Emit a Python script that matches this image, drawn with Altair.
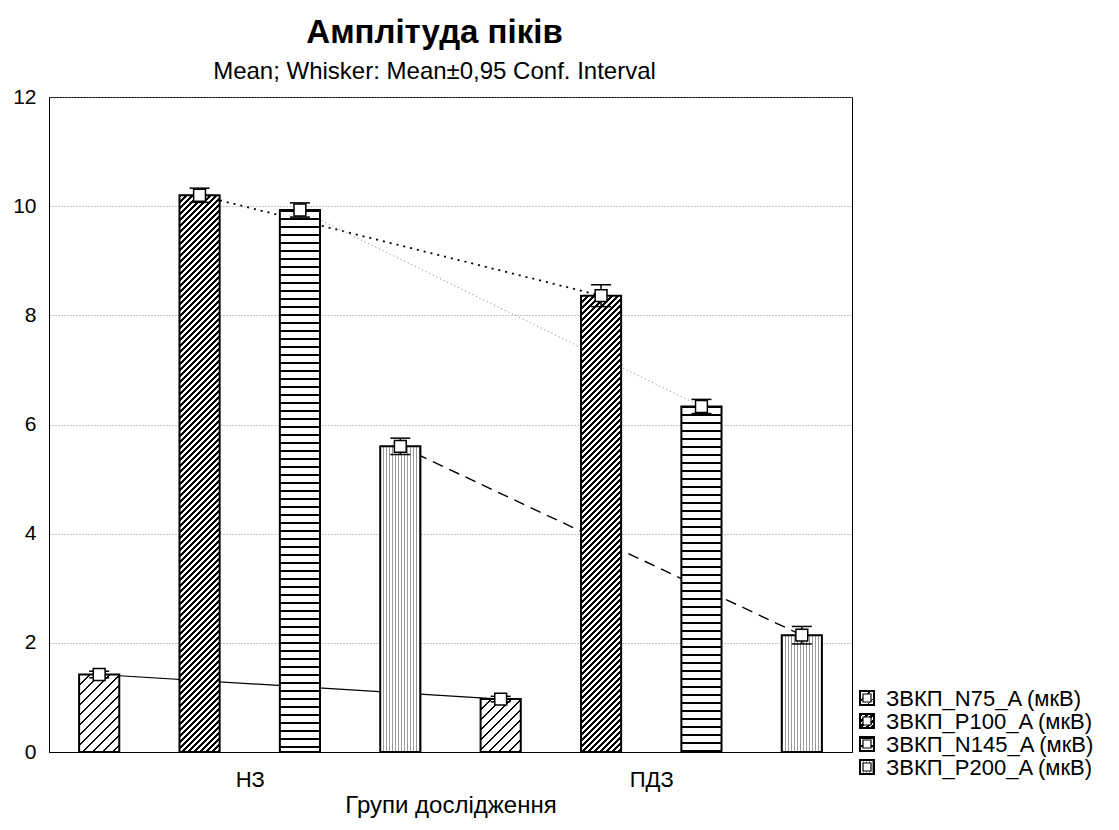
import altair as alt
import pandas as pd

# ---------------- data ----------------
groups = ["НЗ", "ПДЗ"]
series = ["ЗВКП_N75_A (мкВ)", "ЗВКП_P100_A (мкВ)", "ЗВКП_N145_A (мкВ)", "ЗВКП_P200_A (мкВ)"]
mean_n75 = [1.42, 0.97]
mean_p100 = [10.20, 8.36]
mean_n145 = [9.93, 6.33]
mean_p200 = [5.60, 2.14]
ci_n75 = [0.06, 0.05]
ci_p100 = [0.13, 0.20]
ci_n145 = [0.13, 0.13]
ci_p200 = [0.15, 0.16]
y_ticks = [0, 2, 4, 6, 8, 10, 12]

means = [mean_n75, mean_p100, mean_n145, mean_p200]
cis = [ci_n75, ci_p100, ci_n145, ci_p200]

# ---------------- layout ----------------
W, H = 803, 655
YMAX = 12
NSLOT = 8
BAR_FRAC = 0.4
FONT = "Liberation Sans"

rows = []
for gi, g in enumerate(groups):
    for si, s in enumerate(series):
        slot = gi * len(series) + si
        m = means[si][gi]
        c = cis[si][gi]
        rows.append(dict(group=g, series=s, sidx=si, slot=slot,
                         xc=slot + 0.5, x0=slot + 0.5 - BAR_FRAC / 2,
                         x1=slot + 0.5 + BAR_FRAC / 2, base=0.0,
                         mean=m, lo=m - c, hi=m + c))
df = pd.DataFrame(rows)

bar_w = BAR_FRAC * W / NSLOT
px_per = H / YMAX


def stripes(total, period, line, color):
    stops = []
    k = 0
    while k * period < total:
        a = min(k * period / total, 1.0)
        b = min((k * period + line) / total, 1.0)
        stops += [{"offset": round(a, 5), "color": "white"},
                  {"offset": round(a, 5), "color": color},
                  {"offset": round(b, 5), "color": color},
                  {"offset": round(b, 5), "color": "white"}]
        k += 1
    stops.append({"offset": 1, "color": "white"})
    return stops


def diag_fill(w, h, period, line):
    S = w + h
    c = S / (w * w + h * h)
    return {"gradient": "linear", "x1": 0, "y1": 0, "x2": w * c, "y2": h * c,
            "stops": stripes(S, period, line, "black")}


def horiz_fill(h, period, line):
    return {"gradient": "linear", "x1": 0, "y1": 0, "x2": 0, "y2": 1,
            "stops": stripes(h, period, line, "black")}


def vert_fill(w, period, line):
    return {"gradient": "linear", "x1": 0, "y1": 0, "x2": 1, "y2": 0,
            "stops": stripes(w, period, line, "#9a9a9a")}


def fill_for(si, w, h):
    if si == 0:
        return diag_fill(w, h, 10, 1.5)
    if si == 1:
        return diag_fill(w, h, 6, 3.2)
    if si == 2:
        return horiz_fill(h, 8, 2)
    return vert_fill(w, 3, 1)


xs = alt.Scale(domain=[0, NSLOT], nice=False, zero=False)
ys = alt.Scale(domain=[0, YMAX], nice=False, zero=False)

x_axis = alt.Axis(values=[2, 6], labelExpr="datum.value == 2 ? 'НЗ' : 'ПДЗ'",
                  title="Групи дослідження", titleFontSize=24, titleFontWeight="normal",
                  labelFontSize=22, grid=False, ticks=False, domainColor="black",
                  labelPadding=17, titlePadding=3, labelColor="black", titleColor="black")
y_axis = alt.Axis(values=y_ticks, title=None, labelFontSize=21, grid=True,
                  gridDash=[1, 2], gridColor="#8a8a8a", gridWidth=1, ticks=False,
                  domainColor="black", labelPadding=13, labelColor="black")


def X(field):
    return alt.X(field, type="quantitative", scale=xs, axis=x_axis)


def Y(field):
    return alt.Y(field, type="quantitative", scale=ys, axis=y_axis)


base = alt.Chart(df)
layers = []

line_styles = [
    dict(stroke="black", strokeWidth=1.2),
    dict(stroke="black", strokeWidth=1.8, strokeDash=[2, 5]),
    dict(stroke="#777777", strokeWidth=1, strokeDash=[1, 3]),
    dict(stroke="black", strokeWidth=1.4, strokeDash=[11, 7]),
]
for si in range(len(series)):
    layers.append(base.transform_filter(alt.datum.sidx == si)
                  .mark_line(**line_styles[si])
                  .encode(x=X("xc"), y=Y("mean"), order="slot:Q"))

for r in rows:
    layers.append(base.transform_filter(alt.datum.slot == r["slot"])
                  .mark_rect(fill=fill_for(r["sidx"], bar_w, r["mean"] * px_per),
                             stroke="black", strokeWidth=2)
                  .encode(x=X("x0"), x2="x1", y=Y("mean"), y2="base"))

layers.append(base.mark_rule(color="black", strokeWidth=1.5)
              .encode(x=X("xc"), y=Y("lo"), y2="hi"))
layers.append(base.mark_tick(orient="horizontal", size=20, thickness=1.5, color="black", opacity=1)
              .encode(x=X("xc"), y=Y("hi")))
layers.append(base.mark_tick(orient="horizontal", size=20, thickness=1.5, color="black", opacity=1)
              .encode(x=X("xc"), y=Y("lo")))
layers.append(base.mark_point(shape="square", filled=True, color="white", stroke="black",
                              strokeWidth=1.5, size=140, opacity=1)
              .encode(x=X("xc"), y=Y("mean")))

# ---------------- legend (drawn outside the plot area, right of it) ----------------
LEG_X = 811      # icon left edge, px from plot-area left
LEG_Y = 601      # first row centre, px from plot-area top
LEG_ROW = 23
ICON = 14
INNER = 8
for si in range(len(series)):
    cy = LEG_Y + LEG_ROW * si
    one = base.transform_filter((alt.datum.sidx == si) & (alt.datum.slot == si))
    layers.append(one.mark_rect(fill=fill_for(si, ICON, ICON), stroke="black", strokeWidth=2)
                  .encode(x=alt.value(LEG_X), x2=alt.value(LEG_X + ICON),
                          y=alt.value(cy - ICON / 2), y2=alt.value(cy + ICON / 2)))
    layers.append(one.mark_rect(fill="white", stroke="black", strokeWidth=1.2)
                  .encode(x=alt.value(LEG_X + (ICON - INNER) / 2),
                          x2=alt.value(LEG_X + (ICON + INNER) / 2),
                          y=alt.value(cy - INNER / 2), y2=alt.value(cy + INNER / 2)))
    layers.append(one.mark_text(align="left", baseline="middle", fontSize=22, color="black",
                                font=FONT)
                  .encode(x=alt.value(LEG_X + ICON + 12), y=alt.value(cy + 1), text="series:N"))

chart = alt.layer(*layers).properties(
    width=W, height=H,
    title=alt.TitleParams(text="Амплітуда піків",
                          subtitle="Mean; Whisker: Mean±0,95 Conf. Interval",
                          fontSize=33, fontWeight="bold", subtitleFontSize=24,
                          anchor="middle", offset=2, subtitlePadding=10, dx=-16,
                          color="black", subtitleColor="black", font=FONT, subtitleFont=FONT),
    autosize=alt.AutoSizeParams(type="none"),
    padding={"left": 49, "top": 97, "right": 267, "bottom": 78},
    background="white",
).configure(font=FONT).configure_view(stroke="black", strokeWidth=1)

chart.save("out.html", embed_options={"renderer": "svg", "actions": False})
